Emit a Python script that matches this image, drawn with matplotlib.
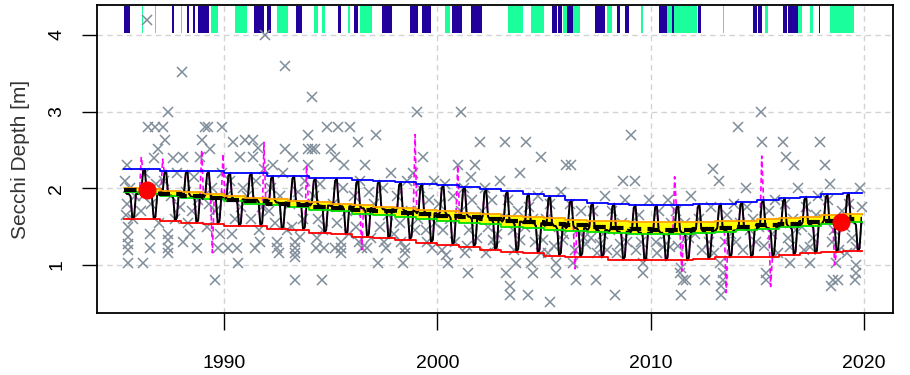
import numpy as np
import matplotlib.pyplot as plt

plt.rcParams['font.family'] = ['Liberation Sans', 'DejaVu Sans']

# yearly model levels, 1985..2019
years = list(range(1985, 2020))
upper = [2.25, 2.25, 2.23, 2.23, 2.22, 2.20, 2.20, 2.16, 2.16, 2.13, 2.13, 2.11, 2.10, 2.08, 2.06,
         2.04, 2.02, 1.99, 1.96, 1.93, 1.90, 1.85, 1.81, 1.80, 1.78, 1.78, 1.78, 1.79, 1.80, 1.82,
         1.85, 1.87, 1.89, 1.92, 1.94]
lower = [1.60, 1.60, 1.58, 1.55, 1.54, 1.51, 1.51, 1.47, 1.46, 1.42, 1.40, 1.37, 1.35, 1.33, 1.29,
         1.26, 1.24, 1.20, 1.17, 1.16, 1.12, 1.11, 1.10, 1.07, 1.06, 1.06, 1.06, 1.08, 1.10, 1.10,
         1.11, 1.13, 1.15, 1.17, 1.18]
trend = [1.98, 1.96, 1.93, 1.90, 1.88, 1.85, 1.83, 1.80, 1.78, 1.76, 1.74, 1.72, 1.70, 1.68, 1.66,
         1.64, 1.62, 1.60, 1.58, 1.56, 1.54, 1.52, 1.50, 1.48, 1.47, 1.46, 1.46, 1.47, 1.48, 1.50,
         1.52, 1.54, 1.56, 1.58, 1.60]
ci_high = [2.01, 1.99, 1.97, 1.95, 1.93, 1.90, 1.88, 1.86, 1.84, 1.82, 1.80, 1.78, 1.76, 1.74, 1.72,
           1.70, 1.68, 1.66, 1.64, 1.62, 1.61, 1.59, 1.58, 1.57, 1.56, 1.56, 1.56, 1.56, 1.57, 1.58,
           1.60, 1.61, 1.63, 1.65, 1.67]
ci_low = [1.95, 1.93, 1.90, 1.88, 1.86, 1.83, 1.80, 1.78, 1.75, 1.72, 1.70, 1.67, 1.65, 1.62, 1.60,
          1.57, 1.55, 1.53, 1.50, 1.48, 1.46, 1.44, 1.43, 1.42, 1.41, 1.41, 1.41, 1.42, 1.43, 1.45,
          1.47, 1.49, 1.51, 1.53, 1.56]

# seasonal shape: position between lower (0) and upper (1) per month
season = [0.5, 0.55, 0.95, 1.0, 0.55, 0.5, 0.5, 0.45, 0.0, 0.05, 0.5, 0.5]
first_month, last_month = 4, 10

# months where the second fit departs from the first
spikes = [(1986.15, 2.41), (1987.15, 2.38), (1989.0, 2.5), (1989.5, 1.16), (1990.0, 2.45),
          (1991.9, 2.6), (1993.9, 2.3), (1996.5, 1.2), (1999.0, 2.7), (2001.0, 2.3),
          (2006.5, 0.95), (2011.1, 2.15), (2011.45, 0.92), (2013.55, 0.64), (2015.2, 2.42),
          (2015.6, 0.72), (2018.6, 1.0)]

highlight = [(1986.38, 1.98), (2018.93, 1.56)]

observations = [
    (1985.35, 2.1), (1985.4, 1.65), (1985.45, 1.8), (1985.5, 1.5), (1985.5, 1.37), (1985.5, 1.28),
    (1985.5, 1.2), (1985.52, 1.02), (1985.6, 2.0), (1985.75, 1.6), (1985.85, 1.9), (1985.45, 2.3),
    (1986.22, 1.02), (1986.38, 4.19), (1986.44, 2.8), (1986.53, 1.4), (1986.53, 1.22), (1986.77, 2.8),
    (1986.92, 2.51), (1986.1, 1.7), (1986.3, 2.2), (1986.6, 1.8), (1986.8, 2.05), (1986.95, 1.55),
    (1986.2, 1.9), (1986.7, 2.4),
    (1987.14, 2.8), (1987.24, 2.63), (1987.39, 3.0), (1987.4, 1.4), (1987.4, 1.33), (1987.4, 1.22),
    (1987.4, 1.15), (1987.2, 2.1), (1987.5, 1.9), (1987.7, 1.6), (1987.8, 2.2), (1987.95, 1.75),
    (1987.6, 2.4),
    (1988.02, 3.51), (1988.08, 2.41), (1988.4, 1.4), (1988.72, 1.22), (1988.88, 2.41), (1988.96, 2.63),
    (1988.2, 1.95), (1988.5, 1.7), (1988.6, 2.15), (1988.3, 1.55), (1988.8, 1.85), (1988.1, 1.3),
    (1989.11, 2.8), (1989.25, 2.8), (1989.34, 2.51), (1989.58, 0.8), (1989.7, 1.22), (1989.89, 2.8),
    (1989.2, 1.5), (1989.45, 2.0), (1989.6, 1.7), (1989.8, 1.4), (1989.9, 2.2), (1989.3, 1.8),
    (1990.2, 1.22), (1990.36, 1.4), (1990.44, 2.6), (1990.6, 1.22), (1990.67, 1.02), (1990.75, 2.41),
    (1990.98, 2.63), (1990.1, 1.9), (1990.3, 2.1), (1990.5, 1.6), (1990.8, 1.75), (1990.9, 2.0),
    (1991.36, 2.63), (1991.36, 2.41), (1991.45, 1.22), (1991.59, 2.52), (1991.7, 1.3), (1991.92, 4.0),
    (1991.1, 1.9), (1991.25, 1.6), (1991.5, 2.1), (1991.8, 1.75), (1991.65, 1.45), (1991.9, 2.25),
    (1992.3, 2.3), (1992.5, 1.3), (1992.5, 1.22), (1992.86, 3.6), (1992.86, 2.51), (1992.1, 1.7),
    (1992.2, 2.0), (1992.4, 1.55), (1992.65, 1.9), (1992.75, 2.2), (1992.95, 1.45), (1992.6, 1.15),
    (1993.25, 2.41), (1993.33, 1.3), (1993.33, 1.22), (1993.33, 1.15), (1993.33, 1.1), (1993.33, 0.8),
    (1993.56, 1.37), (1993.93, 2.69), (1993.93, 2.51), (1993.93, 2.3), (1993.1, 1.8), (1993.45, 1.95),
    (1993.7, 1.6), (1993.8, 2.1), (1993.2, 1.5),
    (1994.11, 3.19), (1994.11, 2.51), (1994.26, 2.51), (1994.3, 1.22), (1994.58, 0.8), (1994.7, 1.22),
    (1994.81, 2.8), (1994.2, 1.9), (1994.4, 1.6), (1994.5, 2.05), (1994.65, 1.45), (1994.9, 1.75),
    (1994.35, 1.35),
    (1995.04, 2.51), (1995.2, 2.41), (1995.2, 1.22), (1995.35, 2.8), (1995.5, 1.3), (1995.5, 1.22),
    (1995.5, 1.15), (1995.9, 2.8), (1995.1, 1.8), (1995.3, 1.55), (1995.6, 2.0), (1995.75, 1.7),
    (1995.85, 1.4), (1995.65, 2.3),
    (1996.29, 2.6), (1996.45, 1.22), (1996.7, 1.22), (1996.1, 1.9), (1996.2, 1.5), (1996.4, 2.1),
    (1996.55, 1.7), (1996.8, 1.95), (1996.9, 1.35), (1996.6, 2.3), (1996.35, 1.3),
    (1997.15, 2.69), (1997.23, 1.02), (1997.6, 1.22), (1997.05, 1.8), (1997.3, 1.5), (1997.45, 2.0),
    (1997.7, 1.65), (1997.85, 2.2), (1997.95, 1.4), (1997.5, 1.3),
    (1998.4, 1.02), (1998.5, 1.22), (1998.5, 1.15), (1998.1, 1.9), (1998.25, 1.55), (1998.6, 2.1),
    (1998.75, 1.7), (1998.85, 2.2), (1998.95, 1.45), (1998.3, 1.3),
    (1999.03, 3.0), (1999.32, 2.41), (1999.73, 1.22), (1999.1, 1.6), (1999.2, 2.0), (1999.45, 1.45),
    (1999.6, 1.85), (1999.85, 2.1), (1999.5, 1.3), (1999.9, 1.55),
    (2000.43, 1.13), (2000.5, 1.02), (2000.96, 2.3), (2000.1, 1.8), (2000.25, 1.45), (2000.35, 2.05),
    (2000.6, 1.6), (2000.75, 1.9), (2000.85, 1.3), (2000.2, 1.2),
    (2001.13, 3.0), (2001.29, 1.15), (2001.44, 0.9), (2001.76, 2.3), (2001.99, 2.6), (2001.1, 1.7),
    (2001.25, 2.0), (2001.5, 1.45), (2001.65, 1.85), (2001.85, 1.35), (2001.6, 2.15), (2001.4, 1.25),
    (2002.61, 1.33), (2002.1, 1.7), (2002.25, 2.0), (2002.4, 1.5), (2002.55, 1.85), (2002.7, 1.25),
    (2002.85, 1.6), (2002.95, 2.1), (2002.3, 1.15), (2002.8, 1.4),
    (2003.16, 2.6), (2003.24, 0.9), (2003.4, 0.72), (2003.4, 0.61), (2003.71, 1.02), (2003.86, 1.33),
    (2003.1, 1.6), (2003.3, 1.85), (2003.55, 1.45), (2003.8, 1.7), (2003.9, 2.2), (2003.6, 1.2),
    (2004.15, 2.6), (2004.25, 0.61), (2004.41, 1.02), (2004.49, 0.9), (2004.88, 2.41), (2004.95, 1.33),
    (2004.1, 1.5), (2004.3, 1.75), (2004.6, 1.3), (2004.7, 1.9), (2004.85, 1.15), (2004.5, 1.6),
    (2005.27, 0.52), (2005.58, 0.9), (2005.58, 1.02), (2005.89, 1.33), (2005.1, 1.6), (2005.3, 1.8),
    (2005.45, 1.25), (2005.7, 1.5), (2005.8, 1.95), (2005.2, 1.15), (2005.95, 1.4),
    (2006.05, 2.3), (2006.29, 2.3), (2006.36, 1.02), (2006.52, 0.81), (2006.99, 1.28), (2006.1, 1.55),
    (2006.2, 1.8), (2006.45, 1.2), (2006.6, 1.45), (2006.75, 1.7), (2006.9, 1.35),
    (2007.46, 0.81), (2007.61, 1.28), (2007.1, 1.5), (2007.3, 1.7), (2007.5, 1.15), (2007.75, 1.4),
    (2007.85, 1.9), (2007.95, 1.2), (2007.2, 1.35),
    (2008.31, 0.61), (2008.55, 1.28), (2008.1, 1.45), (2008.2, 1.7), (2008.4, 1.15), (2008.65, 1.55),
    (2008.8, 1.85), (2008.9, 1.3), (2008.7, 2.1),
    (2009.1, 2.69), (2009.64, 0.9), (2009.64, 1.02), (2009.15, 1.45), (2009.3, 1.2), (2009.45, 1.65),
    (2009.55, 1.3), (2009.8, 1.5), (2009.9, 1.85), (2009.25, 2.1),
    (2010.57, 1.24), (2010.89, 1.24), (2010.1, 1.5), (2010.25, 1.3), (2010.4, 1.7), (2010.7, 1.4),
    (2010.8, 1.85), (2010.3, 1.15), (2010.95, 1.55),
    (2011.36, 0.9), (2011.44, 0.61), (2011.44, 0.96), (2011.5, 0.81), (2011.67, 0.81), (2011.1, 1.45),
    (2011.2, 1.7), (2011.3, 1.25), (2011.6, 1.55), (2011.8, 1.35), (2011.9, 1.9),
    (2012.53, 0.81), (2012.9, 2.25), (2012.1, 1.4), (2012.25, 1.6), (2012.4, 1.2), (2012.65, 1.5),
    (2012.75, 1.3), (2012.85, 1.75), (2012.95, 1.15),
    (2013.23, 1.02), (2013.31, 0.61), (2013.31, 0.72), (2013.39, 0.81), (2013.39, 0.9), (2013.1, 1.5),
    (2013.2, 2.1), (2013.5, 1.3), (2013.6, 1.65), (2013.75, 1.4), (2013.9, 1.8),
    (2014.01, 1.3), (2014.09, 2.8), (2014.94, 1.3), (2014.2, 1.55), (2014.35, 1.2), (2014.5, 1.75),
    (2014.65, 1.45), (2014.8, 1.6), (2014.45, 2.0),
    (2015.18, 3.0), (2015.23, 2.6), (2015.42, 0.81), (2015.42, 0.9), (2015.1, 1.5), (2015.3, 1.25),
    (2015.55, 1.7), (2015.7, 1.4), (2015.85, 1.85), (2015.95, 1.15),
    (2016.2, 2.6), (2016.36, 2.41), (2016.51, 1.02), (2016.51, 1.24), (2016.1, 1.55), (2016.3, 1.8),
    (2016.45, 1.35), (2016.65, 1.6), (2016.8, 1.45), (2016.9, 2.0), (2016.7, 2.3),
    (2017.45, 1.02), (2017.45, 1.24), (2017.92, 2.6), (2017.1, 1.5), (2017.3, 1.75), (2017.6, 1.35),
    (2017.75, 1.65), (2017.85, 1.9), (2017.2, 1.2),
    (2018.15, 2.3), (2018.46, 0.72), (2018.5, 1.3), (2018.53, 0.81), (2018.7, 1.02), (2018.77, 0.81),
    (2018.1, 1.6), (2018.3, 1.85), (2018.6, 1.45), (2018.85, 1.2), (2018.95, 1.7), (2018.4, 2.05),
    (2019.56, 0.81), (2019.63, 0.9), (2019.63, 1.0), (2019.63, 1.24), (2019.1, 1.5), (2019.3, 1.8),
    (2019.45, 1.35), (2019.7, 1.6), (2019.8, 2.0), (2019.2, 1.15), (2019.9, 1.75),
]

# sampling periods shown as a rug along the top
rug_blue = [(1985.32, 1985.6), (1987.55, 1987.65), (1988.28, 1988.35), (1988.55, 1988.65),
            (1988.8, 1989.3), (1991.4, 1991.9), (1992.0, 1992.2), (1993.4, 1993.65),
            (1995.35, 1995.5), (1996.1, 1996.3), (1997.4, 1997.9), (1998.7, 1999.1),
            (1999.3, 1999.7), (2000.7, 2001.15), (2001.6, 2002.1), (2005.4, 2005.6),
            (2005.65, 2005.85), (2006.1, 2006.35), (2007.4, 2007.85), (2008.4, 2008.55),
            (2008.8, 2009.0), (2010.4, 2010.75), (2011.0, 2011.1), (2012.2, 2012.35),
            (2014.8, 2015.0), (2015.05, 2015.2), (2016.2, 2016.4), (2016.45, 2016.9),
            (2017.88, 2017.95)]
rug_green = [(1986.14, 1986.2), (1986.75, 1986.8), (1987.98, 1988.04), (1989.4, 1989.7),
             (1990.5, 1991.1), (1992.5, 1993.0), (1994.2, 1994.4), (1994.6, 1994.75),
             (1995.8, 1995.9), (1996.37, 1996.93), (2000.35, 2000.6), (2003.3, 2004.0),
             (2004.4, 2005.0), (2005.9, 2006.1), (2006.35, 2006.7), (2007.95, 2008.2),
             (2009.55, 2009.65), (2010.75, 2011.0), (2011.1, 2012.15), (2013.38, 2013.44),
             (2015.35, 2015.5), (2016.9, 2017.1), (2017.45, 2017.6), (2018.4, 2019.2),
             (2019.2, 2019.55)]

# step edges for yearly levels
edges = [1985.3] + years[1:] + [2019.9]
def stepped(vals):
    return list(vals) + [vals[-1]]

# monthly seasonal curve
t_month, v_month = [], []
for i, yr in enumerate(years):
    for m in range(12):
        if (yr == years[0] and m < first_month) or (yr == years[-1] and m > last_month):
            continue
        t_month.append(yr + (m + 0.5) / 12)
        v_month.append(lower[i] + season[m] * (upper[i] - lower[i]))
t_month = np.array(t_month)
v_month = np.array(v_month)
v_alt = v_month.copy()
for ts, vs in spikes:
    v_alt[np.argmin(np.abs(t_month - ts))] = vs

fig = plt.figure(figsize=(9.1, 3.75), dpi=100)
ax = fig.add_axes([97 / 910, 62 / 375, 796 / 910, 308 / 375])

ax.grid(True, color='#D3D3D3', linestyle=(0, (4, 3)), linewidth=1)
ax.set_axisbelow(True)

for s, e in rug_green:
    ax.bar(s, 0.345, width=e - s, bottom=4.03, align='edge', color='#1AFF9C', linewidth=0)
for s, e in rug_blue:
    ax.bar(s, 0.345, width=e - s, bottom=4.03, align='edge', color='#22009C', linewidth=0)

ox = [o[0] for o in observations]
oy = [o[1] for o in observations]
ax.plot(ox, oy, linestyle='none', marker='x', markersize=6.5, markeredgewidth=1.1,
        color='#7F8C9A', zorder=2)

ax.fill_between(edges, stepped(ci_low), stepped(ci_high), step='post', color='#FFFF00',
                linewidth=0, zorder=3)
ax.plot(t_month, v_alt, color='#FF00FF', linestyle=(0, (3, 2)), linewidth=1.2, zorder=4)
ax.plot(t_month, v_month, color='black', linewidth=1.4, zorder=5)
ax.plot(edges, stepped(upper), drawstyle='steps-post', color='#0000FF', linewidth=1.3, zorder=6)
ax.plot(edges, stepped(lower), drawstyle='steps-post', color='#FF0000', linewidth=1.3, zorder=6)
ax.plot(edges, stepped(ci_high), drawstyle='steps-post', color='#FFA500', linewidth=1.3, zorder=6)
ax.plot(edges, stepped(ci_low), drawstyle='steps-post', color='#00E000', linewidth=1.3, zorder=6)
ax.plot(edges, stepped(trend), drawstyle='steps-post', color='black', linewidth=3,
        linestyle=(0, (3, 1.5)), zorder=7)
ax.plot([h[0] for h in highlight], [h[1] for h in highlight], linestyle='none', marker='o',
        markersize=12, color='#FF0000', zorder=8)

ax.set_xlim(1984.05, 2021.36)
ax.set_ylim(0.374, 4.39)
ax.set_xticks([1990, 2000, 2010, 2020])
ax.set_yticks([1, 2, 3, 4])
ax.tick_params(axis='x', length=12, width=1, pad=18)
ax.tick_params(axis='y', length=11, width=1, pad=12, labelsize=14, labelrotation=90)
for lab in ax.get_xticklabels():
    lab.set_fontfamily(['Liberation Sans Narrow', 'Liberation Sans'])
    lab.set_fontsize(14)
for lab in ax.get_yticklabels():
    lab.set_va('center')
for sp in ax.spines.values():
    sp.set_linewidth(1.3)
ax.set_ylabel('Secchi Depth [m]', fontsize=15, color='#333333')
ax.yaxis.set_label_coords(-0.084, 0.5)

fig.savefig('out.png', dpi=100)
